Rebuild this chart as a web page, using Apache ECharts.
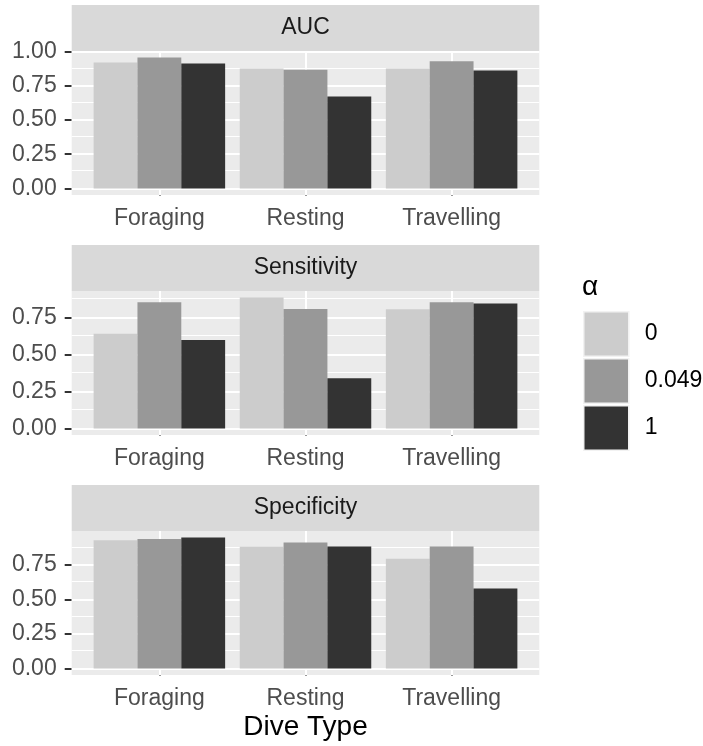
<!DOCTYPE html>
<html>
<head>
<meta charset="utf-8">
<script src="https://cdn.jsdelivr.net/npm/echarts@6/dist/echarts.min.js"></script>
<style>html,body{margin:0;padding:0;background:#fff;}#c{width:703px;height:746px;}</style>
</head>
<body>
<div id="c"></div>
<script>
// ---- data ----
const categories = ['Foraging', 'Resting', 'Travelling'];
const alphaLevels = ['0', '0.049', '1'];
const panelNames = ['AUC', 'Sensitivity', 'Specificity'];
const aucA0 = [0.920, 0.876, 0.876];
const aucA049 = [0.956, 0.866, 0.929];
const aucA1 = [0.912, 0.672, 0.861];
const sensA0 = [0.638, 0.883, 0.804];
const sensA049 = [0.851, 0.806, 0.851];
const sensA1 = [0.597, 0.339, 0.842];
const specA0 = [0.931, 0.883, 0.796];
const specA049 = [0.940, 0.914, 0.885];
const specA1 = [0.950, 0.885, 0.581];
const yTicks = [0, 0.25, 0.5, 0.75, 1.0];
const yMinor = [0.125, 0.375, 0.625, 0.875];

// ---- style ----
const fills = ['#CCCCCC', '#989898', '#333333'];
const FONT = 'Liberation Sans, Arial, Helvetica, sans-serif';
const TICKFS = 23;
const panelLeft = 71.7, panelWidth = 467.6, panelH = 144, stripH = 46;
const panelTops = [51, 291, 531];
const unit = panelWidth / 3.2;

const panelData = [
  [aucA0, aucA049, aucA1],
  [sensA0, sensA049, sensA1],
  [specA0, specA049, specA1]
];

const grid = [], xAxis = [], yAxis = [], series = [], graphic = [];

panelData.forEach((vals, p) => {
  const all = [].concat(...vals);
  const mx = Math.max(...all);
  const yMin = -0.05 * mx, yMax = 1.05 * mx;
  const top = panelTops[p];
  const bg = grid.length;
  grid.push({left: panelLeft, top: top, width: panelWidth, height: panelH,
    show: true, backgroundColor: '#EBEBEB', borderWidth: 0, containLabel: false});
  grid.push({left: panelLeft + 0.1 * unit, top: top, width: 3 * unit, height: panelH, containLabel: false});
  const ticksIn = yTicks.filter(v => v >= yMin && v <= yMax);
  const minorIn = yMinor.filter(v => v >= yMin && v <= yMax);
  // background axes
  xAxis.push({gridIndex: bg, type: 'value', min: 0.4, max: 3.6, show: false});
  yAxis.push({gridIndex: bg, type: 'value', min: yMin, max: yMax,
    axisLine: {show: false},
    axisTick: {show: true, customValues: ticksIn, length: 7, lineStyle: {color: '#333333', width: 2}},
    axisLabel: {show: true, customValues: ticksIn, margin: 15, fontSize: TICKFS, fontFamily: FONT, color: '#4D4D4D',
      formatter: v => Number(v).toFixed(2)},
    splitLine: {show: false}});
  // data axes
  xAxis.push({gridIndex: bg + 1, type: 'category', data: categories,
    axisLine: {show: false},
    axisTick: {show: true, alignWithLabel: true, length: 7, lineStyle: {color: '#333333', width: 2}},
    axisLabel: {margin: 12, fontSize: TICKFS, fontFamily: FONT, color: '#4D4D4D'},
    splitLine: {show: false}});
  yAxis.push({gridIndex: bg + 1, type: 'value', min: yMin, max: yMax, show: false, splitLine: {show: false}});
  // gridlines
  const ml = [];
  minorIn.forEach(v => ml.push({yAxis: v, lineStyle: {color: '#FFFFFF', width: 1, type: 'solid'}}));
  ticksIn.forEach(v => ml.push({yAxis: v, lineStyle: {color: '#FFFFFF', width: 2, type: 'solid'}}));
  categories.forEach((c, i) => ml.push({xAxis: i + 1, lineStyle: {color: '#FFFFFF', width: 2, type: 'solid'}}));
  series.push({type: 'line', xAxisIndex: bg, yAxisIndex: bg, data: [], z: 1, silent: true,
    markLine: {silent: true, z: 1, symbol: ['none', 'none'], label: {show: false}, animation: false, data: ml}});
  // bars
  vals.forEach((arr, k) => {
    series.push({type: 'bar', name: alphaLevels[k], xAxisIndex: bg + 1, yAxisIndex: bg + 1,
      data: arr, barGap: '0%', barCategoryGap: '10%', z: 3,
      itemStyle: {color: fills[k]}});
  });
  // strip
  graphic.push({type: 'rect', left: panelLeft, top: top - stripH, shape: {width: panelWidth, height: stripH},
    style: {fill: '#D9D9D9'}, z: 0});
  graphic.push({type: 'text', x: panelLeft + panelWidth / 2, y: top - stripH / 2,
    style: {text: panelNames[p], font: TICKFS + 'px ' + FONT, fill: '#1A1A1A', align: 'center', verticalAlign: 'middle'}});
});

graphic.push({type: 'text', x: panelLeft + panelWidth / 2, y: 727,
  style: {text: 'Dive Type', font: '28px ' + FONT, fill: '#000000', align: 'center', verticalAlign: 'middle'}});

const chart = echarts.init(document.getElementById('c'), null, {renderer: 'canvas'});
chart.setOption({
  animation: false,
  backgroundColor: '#FFFFFF',
  title: {text: 'α', left: 582, top: 273, padding: 0,
    textStyle: {fontSize: 28, fontWeight: 'normal', fontFamily: FONT, color: '#000000'}},
  legend: {orient: 'vertical', left: 583, top: 311, padding: 0, itemWidth: 45, itemHeight: 44.5, itemGap: 1,
    data: alphaLevels, icon: 'rect',
    itemStyle: {borderColor: '#F2F2F2', borderWidth: 1.5},
    textStyle: {fontSize: TICKFS, fontFamily: FONT, color: '#000000', padding: [0, 0, 0, 11]},
    selectedMode: false},
  grid, xAxis, yAxis, series, graphic
});
</script>
</body>
</html>
